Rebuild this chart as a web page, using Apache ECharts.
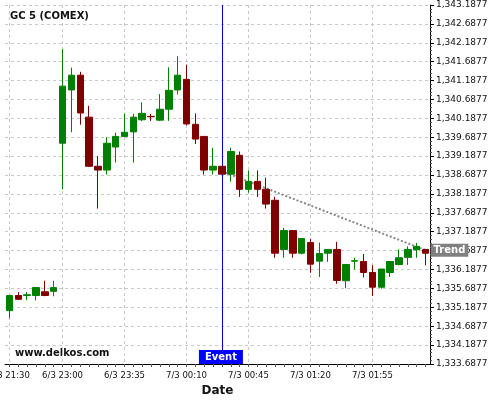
<!DOCTYPE html>
<html>
<head>
<meta charset="utf-8">
<script src="https://cdn.jsdelivr.net/npm/echarts@6/dist/echarts.min.js"></script>
<style>html,body{margin:0;padding:0;background:#fff}#c{width:500px;height:400px}</style>
</head>
<body>
<div id="c"></div>
<script>
const categories = ['6/3 21:30','6/3 21:35','6/3 21:40','6/3 21:45','6/3 21:50','6/3 21:55',
  '6/3 23:00','6/3 23:05','6/3 23:10','6/3 23:15','6/3 23:20','6/3 23:25','6/3 23:30',
  '6/3 23:35','6/3 23:40','6/3 23:45','6/3 23:50','6/3 23:55','7/3 00:00','7/3 00:05',
  '7/3 00:10','7/3 00:15','7/3 00:20','7/3 00:25','7/3 00:30','7/3 00:35','7/3 00:40',
  '7/3 00:45','7/3 00:50','7/3 00:55','7/3 01:00','7/3 01:05','7/3 01:10','7/3 01:15',
  '7/3 01:20','7/3 01:25','7/3 01:30','7/3 01:35','7/3 01:40','7/3 01:45','7/3 01:50',
  '7/3 01:55','7/3 02:00','7/3 02:05','7/3 02:10','7/3 02:15','7/3 02:20','7/3 02:25'];
const opens  = [1335.10,1335.50,1335.50,1335.50,1335.60,1335.61,1339.53,1340.94,1341.33,1340.22,1338.92,1338.82,1339.43,1339.71,1339.83,1340.15,1340.24,1340.14,1340.43,1340.94,1341.22,1340.03,1339.71,1338.82,1338.92,1338.71,1339.21,1338.31,1338.52,1338.31,1338.02,1336.72,1337.22,1336.62,1336.90,1336.41,1336.62,1336.72,1335.89,1336.41,1336.40,1336.11,1335.72,1336.11,1336.32,1336.51,1336.71,1336.72];
const closes = [1335.50,1335.40,1335.52,1335.71,1335.50,1335.71,1341.04,1341.33,1340.33,1338.92,1338.82,1339.53,1339.71,1339.82,1340.22,1340.32,1340.23,1340.43,1340.93,1341.33,1340.04,1339.64,1338.82,1338.92,1338.71,1339.31,1338.31,1338.52,1338.31,1337.92,1336.62,1337.22,1336.62,1337.01,1336.33,1336.61,1336.72,1335.90,1336.32,1336.42,1336.11,1335.72,1336.20,1336.40,1336.50,1336.72,1336.80,1336.62];
const lows   = [1334.90,1335.38,1335.38,1335.37,1335.48,1335.48,1338.31,1339.82,1340.02,1338.90,1337.80,1338.70,1339.02,1339.71,1339.02,1340.12,1340.12,1340.12,1340.12,1340.82,1340.00,1339.51,1338.70,1338.70,1338.71,1338.51,1338.11,1338.22,1338.11,1337.80,1336.50,1336.50,1336.50,1336.59,1336.10,1335.99,1336.39,1335.81,1335.69,1336.19,1335.98,1335.49,1335.68,1335.99,1336.30,1336.31,1336.50,1336.30];
const highs  = [1335.50,1335.59,1335.59,1335.71,1335.89,1335.89,1342.02,1341.53,1341.42,1340.52,1339.19,1339.69,1339.81,1340.31,1340.31,1340.61,1340.31,1340.83,1341.54,1341.83,1341.61,1340.32,1339.71,1339.41,1338.92,1339.41,1339.31,1338.81,1338.81,1338.62,1338.11,1337.29,1337.22,1337.01,1337.00,1336.90,1336.72,1336.92,1336.32,1336.50,1336.60,1336.30,1336.20,1336.40,1336.72,1336.80,1336.89,1336.72];
const labelIdx = [0,6,13,20,27,34,41];
const eventIdx = 24;
const trendIdx = [24, 47];
const trendVals = [1338.79, 1336.70];
const yMin = 1333.6877, yMax = 1343.1877, yStep = 0.5;

const FONT = 'DejaVu Sans';
const candleData = opens.map((o, i) => [o, closes[i], lows[i], highs[i]]);
const showAt = (i) => labelIdx.indexOf(i) >= 0;
const fmt = (v) => {
  const snapped = yMin + Math.round((v - yMin) / yStep) * yStep;
  return snapped.toLocaleString('en-US', {minimumFractionDigits: 4, maximumFractionDigits: 4});
};

const chart = echarts.init(document.getElementById('c'), null, {renderer: 'canvas'});
chart.setOption({
  animation: false,
  textStyle: {fontFamily: FONT},
  title: {text: 'GC 5 (COMEX)', left: 10, top: 11, padding: 0,
    textStyle: {fontFamily: FONT, fontSize: 10, fontWeight: 'bold', color: '#111'}},
  graphic: [{type: 'text', left: 15, top: 348,
    style: {text: 'www.delkos.com', fontFamily: FONT, fontSize: 10, fontWeight: 'bold', fill: '#111'}}],
  grid: {left: 5, right: 70, top: 5, bottom: 36, containLabel: false, outerBoundsMode: 'none'},
  xAxis: {
    type: 'category', data: categories, boundaryGap: true,
    name: 'Date', nameLocation: 'middle', nameGap: 21,
    nameTextStyle: {fontFamily: FONT, fontSize: 12, fontWeight: 'bold', color: '#111'},
    axisLine: {show: true, lineStyle: {color: '#000', width: 1}},
    axisTick: {show: true, interval: 0, alignWithLabel: true, length: 3, lineStyle: {color: '#555'}},
    axisLabel: {interval: (i) => showAt(i), fontFamily: FONT, fontSize: 8.5, color: '#111', margin: 7,
      hideOverlap: false},
    splitLine: {show: true, interval: (i) => showAt(i), alignWithLabel: true, lineStyle: {color: '#c8c8c8', type: [3, 3]}}
  },
  yAxis: {
    type: 'value', position: 'right', scale: true,
    min: yMin, max: yMax, interval: yStep,
    axisLine: {show: true, lineStyle: {color: '#000', width: 1}},
    axisTick: {show: true, length: 4, lineStyle: {color: '#000'}},
    minorTick: {show: true, splitNumber: 5, length: 2, lineStyle: {color: '#555'}},
    axisLabel: {formatter: fmt, fontFamily: FONT, fontSize: 9, color: '#111', margin: 6},
    splitLine: {show: true, lineStyle: {color: '#c8c8c8', type: [3, 3]}}
  },
  series: [
    {
      type: 'line', name: 'trend', z: 1,
      data: trendIdx.map((ix, k) => [ix, trendVals[k]]),
      symbol: 'none',
      lineStyle: {color: '#888', width: 2, type: [2, 2]},
      endLabel: {show: true, formatter: 'Trend', distance: 5, color: '#fff', fontFamily: FONT,
        fontSize: 10, fontWeight: 'bold', backgroundColor: '#808080', padding: [2, 3, 1, 3]}
    },
    {
      type: 'candlestick', name: 'GC', z: 3,
      data: candleData, barWidth: 7,
      itemStyle: {color: '#008000', color0: '#800000', borderColor: '#008000', borderColor0: '#800000', borderWidth: 1},
      markLine: {
        silent: true, symbol: 'none', z: 2,
        label: {show: false},
        lineStyle: {color: '#0000dd', type: 'solid', width: 1},
        data: [{xAxis: eventIdx}]
      },
      markPoint: {
        silent: true,
        data: [{coord: [eventIdx, yMin], symbol: 'rect', symbolSize: [44, 14], symbolOffset: [-1, -7],
          itemStyle: {color: '#0000ff'},
          label: {show: true, position: 'inside', formatter: 'Event', color: '#fff',
            fontFamily: FONT, fontSize: 10, fontWeight: 'bold'}}]
      }
    }
  ]
});
</script>
</body>
</html>
